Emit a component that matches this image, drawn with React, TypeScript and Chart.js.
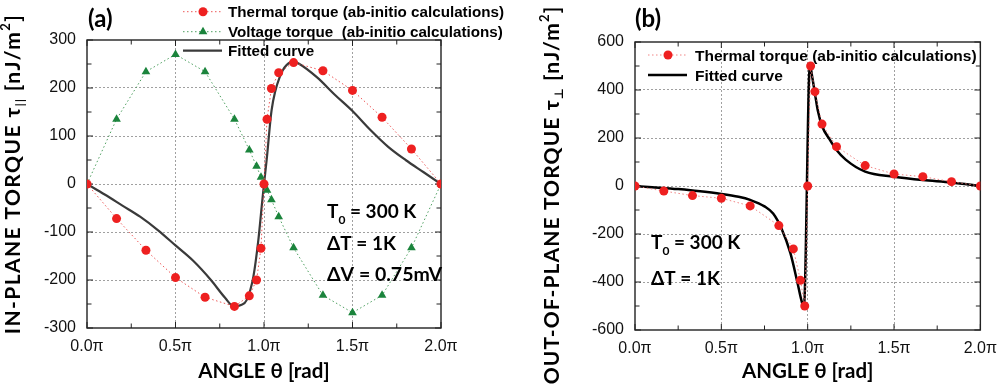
import React, { useEffect, useRef } from 'react';
import { Chart, registerables } from 'chart.js';
Chart.register(...registerables);

// ---------- DATA (angles in units of π) ----------
const xTicks = [0, 0.5, 1, 1.5, 2];
const yTicksA = [-300, -200, -100, 0, 100, 200, 300];
const yTicksB = [-600, -400, -200, 0, 200, 400, 600];

const sampleAngles = [0, 0.167, 0.333, 0.5, 0.667, 0.833, 0.917, 0.958, 0.983, 1.0, 1.017, 1.042, 1.083, 1.167, 1.333, 1.5, 1.667, 1.833, 2.0];

const thermalTorqueA = [0, -72, -138, -195, -236, -255, -233, -200, -134, 0, 135, 199, 232, 253, 236, 195, 139, 73, 0];
const voltageTorqueA = [0, 135, 234, 270, 234, 135, 71, 37, 14, 0, -13, -33, -68, -133, -232, -268, -232, -133, 0];

const fittedAngleA = [0, 0.1, 0.2, 0.3, 0.4, 0.5, 0.6, 0.7, 0.78, 0.83, 0.87, 0.902, 0.94, 0.968, 0.987, 1.0, 1.015, 1.043, 1.09, 1.166, 1.2, 1.3, 1.4, 1.5, 1.6, 1.7, 1.8, 1.9, 2.0];
const fittedTorqueA = [0, -22, -45, -68, -96, -128, -160, -200, -237, -255, -252, -242, -193, -117, -47, 0, 50, 154, 224, 255, 250, 222, 186, 152, 113, 78, 50, 25, 0];

const thermalTorqueB = [0, -21, -40, -51, -83, -165, -262, -393, -500, 0, 500, 393, 258, 164, 85, 50, 39, 18, 0];

const fittedAngleB = [0, 0.1, 0.25, 0.333, 0.5, 0.6, 0.667, 0.75, 0.8, 0.85, 0.9, 0.94, 0.965, 0.978, 1.013, 1.025, 1.04, 1.06, 1.083, 1.126, 1.167, 1.22, 1.333, 1.5, 1.667, 1.833, 2.0];
const fittedTorqueB = [0, -5, -13, -19, -33, -45, -58, -85, -115, -180, -280, -400, -480, -505, 505, 460, 395, 310, 250, 195, 150, 110, 60, 39, 25, 15, 0];

// ---------- STYLE ----------
const TICK_FONT = "'Liberation Sans', Arial, sans-serif";
const TITLE_FONT = "Lato, 'DejaVu Sans', sans-serif";
const RED = '#ee2020';
const GREEN = '#1b843c';

type Seg = { t: string; size: number; dy?: number };

function drawRich(ctx: any, segs: Seg[], x: number, y: number, align: 'left' | 'center', family: string, spacing = 0) {
  ctx.letterSpacing = spacing + 'px';
  const widths = segs.map((s) => {
    ctx.font = `bold ${s.size}px ${family}`;
    return ctx.measureText(s.t).width;
  });
  const total = widths.reduce((a: number, b: number) => a + b, 0);
  let cx = align === 'center' ? x - total / 2 : x;
  ctx.textAlign = 'left';
  ctx.textBaseline = 'alphabetic';
  segs.forEach((s, i) => {
    ctx.font = `bold ${s.size}px ${family}`;
    ctx.fillText(s.t, cx, y + (s.dy || 0));
    cx += widths[i];
  });
  ctx.letterSpacing = '0px';
}

const frameTicks = {
  id: 'frameTicks',
  beforeDatasetsDraw(chart: any) {
    const { ctx, chartArea: a, scales } = chart;
    const xs = scales.x;
    const ys = scales.y;
    ctx.save();
    ctx.strokeStyle = '#222';
    ctx.lineWidth = 1;
    ctx.beginPath();
    const majX = xs.ticks.map((t: any) => t.value);
    const minX = majX.slice(1).map((v: number, i: number) => (v + majX[i]) / 2);
    const majY = ys.ticks.map((t: any) => t.value);
    const minY = majY.slice(1).map((v: number, i: number) => (v + majY[i]) / 2);
    const tx = (v: number, len: number) => {
      const p = xs.getPixelForValue(v);
      ctx.moveTo(p, a.bottom);
      ctx.lineTo(p, a.bottom - len);
      ctx.moveTo(p, a.top);
      ctx.lineTo(p, a.top + len);
    };
    const ty = (v: number, len: number) => {
      const p = ys.getPixelForValue(v);
      ctx.moveTo(a.left, p);
      ctx.lineTo(a.left + len, p);
      ctx.moveTo(a.right, p);
      ctx.lineTo(a.right - len, p);
    };
    majX.forEach((v: number) => tx(v, 6));
    minX.forEach((v: number) => tx(v, 4.5));
    majY.forEach((v: number) => ty(v, 6));
    minY.forEach((v: number) => ty(v, 4.5));
    ctx.stroke();
    ctx.lineWidth = 1.4;
    ctx.strokeRect(a.left, a.top, a.right - a.left, a.bottom - a.top);
    ctx.restore();
  },
};

function buildOptions(yTicks: number[], yMin: number, yMax: number, yWidth: number, xHeight: number, pad: any) {
  const gridColor = (c: any) => (c.tick ? 'rgba(150,150,150,0.9)' : 'transparent');
  return {
    responsive: false,
    animation: false as const,
    layout: { padding: pad },
    plugins: { legend: { display: false }, tooltip: { enabled: false } },
    scales: {
      x: {
        type: 'linear' as const,
        min: 0,
        max: 2,
        afterBuildTicks: (s: any) => {
          s.ticks = xTicks.map((v) => ({ value: v }));
        },
        afterFit: (s: any) => {
          s.height = xHeight;
        },
        ticks: {
          autoSkip: false,
          maxRotation: 0,
          padding: 9,
          color: '#111',
          font: { family: TICK_FONT, size: 16 },
          callback: (v: any) => Number(v).toFixed(1) + 'π',
        },
        grid: {
          drawTicks: false,
          lineWidth: (c: any) => (c.tick && (c.tick.value === 0 || c.tick.value === 2) ? 0 : 1),
          color: gridColor,
        },
        border: { display: false, dash: [2, 2] },
      },
      y: {
        type: 'linear' as const,
        min: yMin,
        max: yMax,
        afterBuildTicks: (s: any) => {
          s.ticks = yTicks.map((v) => ({ value: v }));
        },
        afterFit: (s: any) => {
          s.width = yWidth;
        },
        ticks: {
          padding: 11,
          color: '#111',
          font: { family: TICK_FONT, size: 16 },
          callback: (v: any) => String(v),
        },
        grid: {
          drawTicks: false,
          lineWidth: (c: any) => (c.tick && (c.tick.value === yMin || c.tick.value === yMax) ? 0 : 1),
          color: gridColor,
        },
        border: { display: false, dash: [2, 2] },
      },
    },
  };
}

function legendCircle(ctx: CanvasRenderingContext2D, x: number, y: number, color: string) {
  ctx.fillStyle = color;
  ctx.beginPath();
  ctx.arc(x, y, 4.5, 0, Math.PI * 2);
  ctx.fill();
}
function legendTriangle(ctx: CanvasRenderingContext2D, x: number, y: number, color: string) {
  const r = 5;
  ctx.fillStyle = color;
  ctx.beginPath();
  ctx.moveTo(x, y - r);
  ctx.lineTo(x + r * 0.866, y + r * 0.5);
  ctx.lineTo(x - r * 0.866, y + r * 0.5);
  ctx.closePath();
  ctx.fill();
}
function legendLine(ctx: CanvasRenderingContext2D, x1: number, x2: number, y: number, color: string, w: number, dash: number[]) {
  ctx.save();
  ctx.strokeStyle = color;
  ctx.lineWidth = w;
  ctx.setLineDash(dash);
  ctx.beginPath();
  ctx.moveTo(x1, y);
  ctx.lineTo(x2, y);
  ctx.stroke();
  ctx.restore();
}

const textA = {
  id: 'textA',
  afterDraw(chart: any) {
    const { ctx, chartArea: a } = chart;
    ctx.save();
    ctx.fillStyle = '#000';
    drawRich(ctx, [{ t: '(a)', size: 24 }], 88, 27, 'left', TITLE_FONT);
    drawRich(ctx, [{ t: 'ANGLE θ [rad]', size: 20.5 }], (a.left + a.right) / 2, 378, 'center', TITLE_FONT);
    ctx.save();
    ctx.translate(20, (a.top + a.bottom) / 2 - 10);
    ctx.rotate(-Math.PI / 2);
    drawRich(
      ctx,
      [
        { t: 'IN-PLANE TORQUE τ', size: 21 },
        { t: '||', size: 11, dy: 4 },
        { t: ' [nJ/m', size: 21 },
        { t: '2', size: 13, dy: -10 },
        { t: ']', size: 21 },
      ],
      0,
      0,
      'center',
      TITLE_FONT,
      1.4
    );
    ctx.restore();
    drawRich(ctx, [{ t: 'T', size: 19 }, { t: '0', size: 12, dy: 6 }, { t: ' = 300 K', size: 19 }], 327, 218, 'left', TITLE_FONT);
    drawRich(ctx, [{ t: 'ΔT = 1K', size: 19 }], 327, 250, 'left', TITLE_FONT);
    drawRich(ctx, [{ t: 'ΔV = 0.75mV', size: 19.5 }], 327, 281, 'left', TITLE_FONT);
    legendLine(ctx, 183, 222, 11.7, 'rgba(235,70,70,0.9)', 1, [1.5, 2.5]);
    legendCircle(ctx, 203, 11.7, RED);
    legendLine(ctx, 183, 222, 31.7, 'rgba(60,150,80,0.9)', 1, [1.5, 2.5]);
    legendTriangle(ctx, 203, 31.7, GREEN);
    legendLine(ctx, 183, 222, 50.7, '#3a3a3a', 2.2, []);
    ctx.fillStyle = '#000';
    drawRich(ctx, [{ t: 'Thermal torque (ab-initio calculations)', size: 15.2 }], 228, 17.3, 'left', TICK_FONT);
    drawRich(ctx, [{ t: 'Voltage torque  (ab-initio calculations)', size: 15.2 }], 228, 37, 'left', TICK_FONT);
    drawRich(ctx, [{ t: 'Fitted curve', size: 15.2 }], 228, 56.3, 'left', TICK_FONT);
    ctx.restore();
  },
};

const textB = {
  id: 'textB',
  afterDraw(chart: any) {
    const { ctx, chartArea: a } = chart;
    ctx.save();
    ctx.fillStyle = '#000';
    drawRich(ctx, [{ t: '(b)', size: 24 }], 125, 27, 'left', TITLE_FONT);
    drawRich(ctx, [{ t: 'ANGLE θ [rad]', size: 20.5 }], (a.left + a.right) / 2, 378, 'center', TITLE_FONT);
    ctx.save();
    ctx.translate(49, 195);
    ctx.rotate(-Math.PI / 2);
    drawRich(
      ctx,
      [
        { t: 'OUT-OF-PLANE TORQUE τ', size: 21 },
        { t: '⊥', size: 12, dy: 4 },
        { t: ' [nJ/m', size: 21 },
        { t: '2', size: 13, dy: -10 },
        { t: ']', size: 21 },
      ],
      0,
      0,
      'center',
      TITLE_FONT,
      1.1
    );
    ctx.restore();
    drawRich(ctx, [{ t: 'T', size: 19 }, { t: '0', size: 12, dy: 6 }, { t: ' = 300 K', size: 19 }], 141, 249, 'left', TITLE_FONT);
    drawRich(ctx, [{ t: 'ΔT = 1K', size: 19 }], 141, 285, 'left', TITLE_FONT);
    legendLine(ctx, 138, 177, 55, 'rgba(240,120,120,0.9)', 1, [1.5, 2.5]);
    legendCircle(ctx, 158, 55, RED);
    legendLine(ctx, 138, 177, 75, '#000', 2.5, []);
    ctx.fillStyle = '#000';
    drawRich(ctx, [{ t: 'Thermal torque (ab-initio calculations)', size: 15.5 }], 185, 60.5, 'left', TICK_FONT);
    drawRich(ctx, [{ t: 'Fitted curve', size: 15.5 }], 185, 80.5, 'left', TICK_FONT);
    ctx.restore();
  },
};

const pts = (xs: number[], ys: number[]) => xs.map((x, i) => ({ x, y: ys[i] }));

export default function App() {
  const refA = useRef<HTMLCanvasElement>(null);
  const refB = useRef<HTMLCanvasElement>(null);

  useEffect(() => {
    const chartA = new Chart(refA.current!, {
      type: 'line',
      data: {
        datasets: [
          {
            label: 'Thermal torque (ab-initio calculations)',
            data: pts(sampleAngles, thermalTorqueA),
            borderColor: 'rgba(235,70,70,0.9)',
            borderWidth: 1,
            borderDash: [1.5, 2.5],
            pointStyle: 'circle',
            pointRadius: 4.5,
            pointBackgroundColor: RED,
            pointBorderWidth: 0,
            tension: 0,
          },
          {
            label: 'Voltage torque  (ab-initio calculations)',
            data: pts(sampleAngles, voltageTorqueA),
            borderColor: 'rgba(60,150,80,0.9)',
            borderWidth: 1,
            borderDash: [1.5, 2.5],
            pointStyle: 'triangle',
            pointRadius: 5,
            pointBackgroundColor: GREEN,
            pointBorderWidth: 0,
            tension: 0,
          },
          {
            label: 'Fitted curve',
            data: pts(fittedAngleA, fittedTorqueA),
            borderColor: '#3a3a3a',
            borderWidth: 2.2,
            pointRadius: 0,
            cubicInterpolationMode: 'monotone',
          },
        ],
      },
      options: buildOptions(yTicksA, -300, 300, 87, 64, { left: 0, right: 69, top: 40, bottom: 0 }) as any,
      plugins: [frameTicks, textA],
    });
    const chartB = new Chart(refB.current!, {
      type: 'line',
      data: {
        datasets: [
          {
            label: 'Thermal torque (ab-initio calculations)',
            data: pts(sampleAngles, thermalTorqueB),
            borderColor: 'rgba(240,120,120,0.9)',
            borderWidth: 1,
            borderDash: [1.5, 2.5],
            pointStyle: 'circle',
            pointRadius: 4.5,
            pointBackgroundColor: RED,
            pointBorderWidth: 0,
            tension: 0,
          },
          {
            label: 'Fitted curve',
            data: pts(fittedAngleB, fittedTorqueB),
            borderColor: '#000',
            borderWidth: 2.5,
            pointRadius: 0,
            cubicInterpolationMode: 'monotone',
          },
        ],
      },
      options: buildOptions(yTicksB, -600, 600, 125, 62, { left: 0, right: 18.3, top: 42, bottom: 0 }) as any,
      plugins: [frameTicks, textB],
    });
    return () => {
      chartA.destroy();
      chartB.destroy();
    };
  }, []);

  return (
    <div style={{ position: 'absolute', left: 0, top: 0, width: 1006, height: 392, background: '#fff' }}>
      <canvas ref={refA} width={510} height={392} style={{ position: 'absolute', left: 0, top: 0, width: 510, height: 392 }} />
      <canvas ref={refB} width={496} height={392} style={{ position: 'absolute', left: 510, top: 0, width: 496, height: 392 }} />
    </div>
  );
}
